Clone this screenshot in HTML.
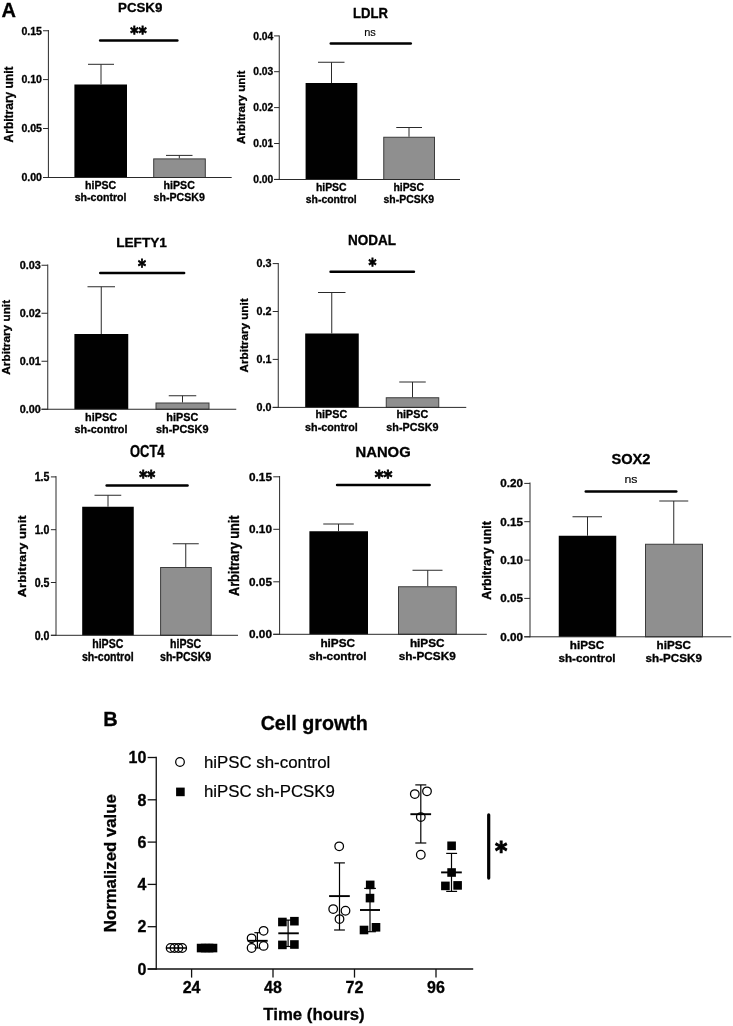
<!DOCTYPE html>
<html lang="en">
<head>
<meta charset="utf-8">
<title>Figure: PCSK9 knockdown in hiPSC</title>
<style>
html,body{margin:0;padding:0;background:#ffffff;}
body{width:733px;height:1026px;overflow:hidden;font-family:'Liberation Sans', sans-serif;}
svg{display:block;will-change:transform;opacity:0.999;}
text{fill:#000;}
</style>
</head>
<body>
<svg width="733" height="1026" viewBox="0 0 733 1026">
<rect x="0" y="0" width="733" height="1026" fill="#ffffff"/>
<text x="1.5" y="16.9" font-family="'Liberation Sans', sans-serif" font-size="20" font-weight="bold" stroke="#000" stroke-width="0.3">A</text>
<g><!-- PCSK9 -->
<text transform="translate(140.20,12.20)" font-family="'Liberation Sans', sans-serif" font-size="13.3" font-weight="bold" text-anchor="middle" stroke="#000" stroke-width="0.3">PCSK9</text>
<rect x="74.40" y="84.50" width="52.60" height="93.00" fill="#000"/>
<rect x="153.70" y="158.90" width="51.60" height="18.60" fill="#8f8f8f" stroke="#3c3c3c" stroke-width="1"/>
<line x1="101.00" y1="64.30" x2="101.00" y2="84.50" stroke="#2a2a2a" stroke-width="1.0" stroke-linecap="butt"/>
<line x1="88.00" y1="64.30" x2="114.00" y2="64.30" stroke="#2a2a2a" stroke-width="1.0" stroke-linecap="butt"/>
<line x1="179.30" y1="155.40" x2="179.30" y2="158.40" stroke="#2a2a2a" stroke-width="1.0" stroke-linecap="butt"/>
<line x1="166.00" y1="155.40" x2="192.50" y2="155.40" stroke="#2a2a2a" stroke-width="1.0" stroke-linecap="butt"/>
<line x1="48.40" y1="30.00" x2="48.40" y2="178.00" stroke="#2a2a2a" stroke-width="1.0" stroke-linecap="butt"/>
<line x1="43.00" y1="177.50" x2="231.70" y2="177.50" stroke="#2a2a2a" stroke-width="1.0" stroke-linecap="butt"/>
<line x1="43.00" y1="30.75" x2="48.40" y2="30.75" stroke="#2a2a2a" stroke-width="1.0" stroke-linecap="butt"/>
<text transform="translate(42.00,34.54)" font-family="'Liberation Sans', sans-serif" font-size="10.6" font-weight="bold" text-anchor="end" stroke="#000" stroke-width="0.3">0.15</text>
<line x1="43.00" y1="79.60" x2="48.40" y2="79.60" stroke="#2a2a2a" stroke-width="1.0" stroke-linecap="butt"/>
<text transform="translate(42.00,83.39)" font-family="'Liberation Sans', sans-serif" font-size="10.6" font-weight="bold" text-anchor="end" stroke="#000" stroke-width="0.3">0.10</text>
<line x1="43.00" y1="128.50" x2="48.40" y2="128.50" stroke="#2a2a2a" stroke-width="1.0" stroke-linecap="butt"/>
<text transform="translate(42.00,132.29)" font-family="'Liberation Sans', sans-serif" font-size="10.6" font-weight="bold" text-anchor="end" stroke="#000" stroke-width="0.3">0.05</text>
<line x1="43.00" y1="177.50" x2="48.40" y2="177.50" stroke="#2a2a2a" stroke-width="1.0" stroke-linecap="butt"/>
<text transform="translate(42.00,181.29)" font-family="'Liberation Sans', sans-serif" font-size="10.6" font-weight="bold" text-anchor="end" stroke="#000" stroke-width="0.3">0.00</text>
<line x1="100.15" y1="40.60" x2="177.35" y2="40.60" stroke="#000" stroke-width="2.5" stroke-linecap="round"/>
<text transform="translate(138.40,38.86) scale(1.030,1.180)" font-family="'DejaVu Sans', 'Liberation Sans', sans-serif" font-size="15.2" font-weight="bold" text-anchor="middle" stroke="#000" stroke-width="0.7">**</text>
<text transform="translate(100.60,189.25)" font-family="'Liberation Sans', sans-serif" font-size="10.6" font-weight="bold" text-anchor="middle" stroke="#000" stroke-width="0.3">hiPSC</text>
<text transform="translate(100.60,201.25)" font-family="'Liberation Sans', sans-serif" font-size="10.6" font-weight="bold" text-anchor="middle" stroke="#000" stroke-width="0.3">sh-control</text>
<text transform="translate(179.20,189.25)" font-family="'Liberation Sans', sans-serif" font-size="10.6" font-weight="bold" text-anchor="middle" stroke="#000" stroke-width="0.3">hiPSC</text>
<text transform="translate(179.20,201.25)" font-family="'Liberation Sans', sans-serif" font-size="10.6" font-weight="bold" text-anchor="middle" stroke="#000" stroke-width="0.3">sh-PCSK9</text>
<text transform="translate(12.90,104.40) rotate(-90)" font-family="'Liberation Sans', sans-serif" font-size="12.0" font-weight="bold" text-anchor="middle" stroke="#000" stroke-width="0.3">Arbitrary unit</text>
</g>
<g><!-- LDLR -->
<text transform="translate(370.50,17.70) scale(0.985,1.040)" font-family="'Liberation Sans', sans-serif" font-size="13.3" font-weight="bold" text-anchor="middle" stroke="#000" stroke-width="0.3">LDLR</text>
<rect x="305.60" y="83.00" width="51.70" height="96.50" fill="#000"/>
<rect x="383.75" y="137.25" width="50.75" height="42.25" fill="#8f8f8f" stroke="#3c3c3c" stroke-width="1"/>
<line x1="331.50" y1="62.25" x2="331.50" y2="83.00" stroke="#2a2a2a" stroke-width="1.0" stroke-linecap="butt"/>
<line x1="318.00" y1="62.25" x2="344.50" y2="62.25" stroke="#2a2a2a" stroke-width="1.0" stroke-linecap="butt"/>
<line x1="409.00" y1="127.50" x2="409.00" y2="136.75" stroke="#2a2a2a" stroke-width="1.0" stroke-linecap="butt"/>
<line x1="396.25" y1="127.50" x2="422.00" y2="127.50" stroke="#2a2a2a" stroke-width="1.0" stroke-linecap="butt"/>
<line x1="279.25" y1="35.50" x2="279.25" y2="180.00" stroke="#2a2a2a" stroke-width="1.0" stroke-linecap="butt"/>
<line x1="274.10" y1="179.50" x2="460.00" y2="179.50" stroke="#2a2a2a" stroke-width="1.0" stroke-linecap="butt"/>
<line x1="274.10" y1="35.90" x2="279.25" y2="35.90" stroke="#2a2a2a" stroke-width="1.0" stroke-linecap="butt"/>
<text transform="translate(273.20,39.62) scale(0.970,0.980)" font-family="'Liberation Sans', sans-serif" font-size="10.6" font-weight="bold" text-anchor="end" stroke="#000" stroke-width="0.3">0.04</text>
<line x1="274.10" y1="71.70" x2="279.25" y2="71.70" stroke="#2a2a2a" stroke-width="1.0" stroke-linecap="butt"/>
<text transform="translate(273.20,75.42) scale(0.970,0.980)" font-family="'Liberation Sans', sans-serif" font-size="10.6" font-weight="bold" text-anchor="end" stroke="#000" stroke-width="0.3">0.03</text>
<line x1="274.10" y1="107.60" x2="279.25" y2="107.60" stroke="#2a2a2a" stroke-width="1.0" stroke-linecap="butt"/>
<text transform="translate(273.20,111.32) scale(0.970,0.980)" font-family="'Liberation Sans', sans-serif" font-size="10.6" font-weight="bold" text-anchor="end" stroke="#000" stroke-width="0.3">0.02</text>
<line x1="274.10" y1="143.50" x2="279.25" y2="143.50" stroke="#2a2a2a" stroke-width="1.0" stroke-linecap="butt"/>
<text transform="translate(273.20,147.22) scale(0.970,0.980)" font-family="'Liberation Sans', sans-serif" font-size="10.6" font-weight="bold" text-anchor="end" stroke="#000" stroke-width="0.3">0.01</text>
<line x1="274.10" y1="179.40" x2="279.25" y2="179.40" stroke="#2a2a2a" stroke-width="1.0" stroke-linecap="butt"/>
<text transform="translate(273.20,183.12) scale(0.970,0.980)" font-family="'Liberation Sans', sans-serif" font-size="10.6" font-weight="bold" text-anchor="end" stroke="#000" stroke-width="0.3">0.00</text>
<line x1="330.75" y1="43.50" x2="410.75" y2="43.50" stroke="#000" stroke-width="2.5" stroke-linecap="round"/>
<text transform="translate(370.00,35.75) scale(0.985,0.980)" font-family="'Liberation Sans', sans-serif" font-size="11.2" font-weight="normal" text-anchor="middle" stroke="#000" stroke-width="0.15">ns</text>
<text transform="translate(331.25,190.50) scale(0.985,0.980)" font-family="'Liberation Sans', sans-serif" font-size="10.6" font-weight="bold" text-anchor="middle" stroke="#000" stroke-width="0.3">hiPSC</text>
<text transform="translate(331.25,203.00) scale(0.985,0.980)" font-family="'Liberation Sans', sans-serif" font-size="10.6" font-weight="bold" text-anchor="middle" stroke="#000" stroke-width="0.3">sh-control</text>
<text transform="translate(408.75,190.50) scale(0.985,0.980)" font-family="'Liberation Sans', sans-serif" font-size="10.6" font-weight="bold" text-anchor="middle" stroke="#000" stroke-width="0.3">hiPSC</text>
<text transform="translate(408.75,203.00) scale(0.985,0.980)" font-family="'Liberation Sans', sans-serif" font-size="10.6" font-weight="bold" text-anchor="middle" stroke="#000" stroke-width="0.3">sh-PCSK9</text>
<text transform="translate(245.30,107.30) rotate(-90)" font-family="'Liberation Sans', sans-serif" font-size="11.6" font-weight="bold" text-anchor="middle" stroke="#000" stroke-width="0.3">Arbitrary unit</text>
</g>
<g><!-- LEFTY1 -->
<text transform="translate(141.50,246.90) scale(1.025,1.020)" font-family="'Liberation Sans', sans-serif" font-size="13.3" font-weight="bold" text-anchor="middle" stroke="#000" stroke-width="0.3">LEFTY1</text>
<rect x="74.40" y="334.00" width="53.85" height="75.25" fill="#000"/>
<rect x="156.00" y="403.00" width="53.00" height="6.25" fill="#8f8f8f" stroke="#3c3c3c" stroke-width="1"/>
<line x1="101.25" y1="286.75" x2="101.25" y2="334.00" stroke="#2a2a2a" stroke-width="1.0" stroke-linecap="butt"/>
<line x1="87.50" y1="286.75" x2="115.00" y2="286.75" stroke="#2a2a2a" stroke-width="1.0" stroke-linecap="butt"/>
<line x1="182.50" y1="395.75" x2="182.50" y2="402.50" stroke="#2a2a2a" stroke-width="1.0" stroke-linecap="butt"/>
<line x1="168.75" y1="395.75" x2="196.25" y2="395.75" stroke="#2a2a2a" stroke-width="1.0" stroke-linecap="butt"/>
<line x1="47.75" y1="264.50" x2="47.75" y2="409.75" stroke="#2a2a2a" stroke-width="1.0" stroke-linecap="butt"/>
<line x1="41.50" y1="409.25" x2="236.25" y2="409.25" stroke="#2a2a2a" stroke-width="1.0" stroke-linecap="butt"/>
<line x1="41.50" y1="265.25" x2="47.75" y2="265.25" stroke="#2a2a2a" stroke-width="1.0" stroke-linecap="butt"/>
<text transform="translate(40.75,268.97) scale(1.025,0.980)" font-family="'Liberation Sans', sans-serif" font-size="10.6" font-weight="bold" text-anchor="end" stroke="#000" stroke-width="0.3">0.03</text>
<line x1="41.50" y1="313.25" x2="47.75" y2="313.25" stroke="#2a2a2a" stroke-width="1.0" stroke-linecap="butt"/>
<text transform="translate(40.75,316.97) scale(1.025,0.980)" font-family="'Liberation Sans', sans-serif" font-size="10.6" font-weight="bold" text-anchor="end" stroke="#000" stroke-width="0.3">0.02</text>
<line x1="41.50" y1="361.25" x2="47.75" y2="361.25" stroke="#2a2a2a" stroke-width="1.0" stroke-linecap="butt"/>
<text transform="translate(40.75,364.97) scale(1.025,0.980)" font-family="'Liberation Sans', sans-serif" font-size="10.6" font-weight="bold" text-anchor="end" stroke="#000" stroke-width="0.3">0.01</text>
<line x1="41.50" y1="409.25" x2="47.75" y2="409.25" stroke="#2a2a2a" stroke-width="1.0" stroke-linecap="butt"/>
<text transform="translate(40.75,412.97) scale(1.025,0.980)" font-family="'Liberation Sans', sans-serif" font-size="10.6" font-weight="bold" text-anchor="end" stroke="#000" stroke-width="0.3">0.00</text>
<line x1="100.25" y1="272.90" x2="184.15" y2="272.90" stroke="#000" stroke-width="2.5" stroke-linecap="round"/>
<text transform="translate(141.90,271.71) scale(1.000,1.180)" font-family="'DejaVu Sans', 'Liberation Sans', sans-serif" font-size="15.2" font-weight="bold" text-anchor="middle" stroke="#000" stroke-width="0.7">*</text>
<text transform="translate(101.00,420.50) scale(1.025,0.980)" font-family="'Liberation Sans', sans-serif" font-size="10.6" font-weight="bold" text-anchor="middle" stroke="#000" stroke-width="0.3">hiPSC</text>
<text transform="translate(101.00,433.00) scale(1.025,0.980)" font-family="'Liberation Sans', sans-serif" font-size="10.6" font-weight="bold" text-anchor="middle" stroke="#000" stroke-width="0.3">sh-control</text>
<text transform="translate(182.25,420.50) scale(1.025,0.980)" font-family="'Liberation Sans', sans-serif" font-size="10.6" font-weight="bold" text-anchor="middle" stroke="#000" stroke-width="0.3">hiPSC</text>
<text transform="translate(182.25,433.00) scale(1.025,0.980)" font-family="'Liberation Sans', sans-serif" font-size="10.6" font-weight="bold" text-anchor="middle" stroke="#000" stroke-width="0.3">sh-PCSK9</text>
<text transform="translate(9.90,337.30) rotate(-90)" font-family="'Liberation Sans', sans-serif" font-size="11.8" font-weight="bold" text-anchor="middle" stroke="#000" stroke-width="0.3">Arbitrary unit</text>
</g>
<g><!-- NODAL -->
<text transform="translate(372.00,245.20) scale(1.017,1.040)" font-family="'Liberation Sans', sans-serif" font-size="13.3" font-weight="bold" text-anchor="middle" stroke="#000" stroke-width="0.3">NODAL</text>
<rect x="305.20" y="333.50" width="53.55" height="73.90" fill="#000"/>
<rect x="386.25" y="397.75" width="52.50" height="9.65" fill="#8f8f8f" stroke="#3c3c3c" stroke-width="1"/>
<line x1="331.75" y1="292.50" x2="331.75" y2="333.50" stroke="#2a2a2a" stroke-width="1.0" stroke-linecap="butt"/>
<line x1="318.00" y1="292.50" x2="345.50" y2="292.50" stroke="#2a2a2a" stroke-width="1.0" stroke-linecap="butt"/>
<line x1="412.50" y1="382.00" x2="412.50" y2="397.25" stroke="#2a2a2a" stroke-width="1.0" stroke-linecap="butt"/>
<line x1="399.25" y1="382.00" x2="425.75" y2="382.00" stroke="#2a2a2a" stroke-width="1.0" stroke-linecap="butt"/>
<line x1="278.25" y1="263.00" x2="278.25" y2="407.90" stroke="#2a2a2a" stroke-width="1.0" stroke-linecap="butt"/>
<line x1="272.70" y1="407.40" x2="466.25" y2="407.40" stroke="#2a2a2a" stroke-width="1.0" stroke-linecap="butt"/>
<line x1="272.70" y1="263.60" x2="278.25" y2="263.60" stroke="#2a2a2a" stroke-width="1.0" stroke-linecap="butt"/>
<text transform="translate(271.60,267.32) scale(1.017,0.980)" font-family="'Liberation Sans', sans-serif" font-size="10.6" font-weight="bold" text-anchor="end" stroke="#000" stroke-width="0.3">0.3</text>
<line x1="272.70" y1="311.50" x2="278.25" y2="311.50" stroke="#2a2a2a" stroke-width="1.0" stroke-linecap="butt"/>
<text transform="translate(271.60,315.22) scale(1.017,0.980)" font-family="'Liberation Sans', sans-serif" font-size="10.6" font-weight="bold" text-anchor="end" stroke="#000" stroke-width="0.3">0.2</text>
<line x1="272.70" y1="359.40" x2="278.25" y2="359.40" stroke="#2a2a2a" stroke-width="1.0" stroke-linecap="butt"/>
<text transform="translate(271.60,363.12) scale(1.017,0.980)" font-family="'Liberation Sans', sans-serif" font-size="10.6" font-weight="bold" text-anchor="end" stroke="#000" stroke-width="0.3">0.1</text>
<line x1="272.70" y1="407.40" x2="278.25" y2="407.40" stroke="#2a2a2a" stroke-width="1.0" stroke-linecap="butt"/>
<text transform="translate(271.60,411.12) scale(1.017,0.980)" font-family="'Liberation Sans', sans-serif" font-size="10.6" font-weight="bold" text-anchor="end" stroke="#000" stroke-width="0.3">0.0</text>
<line x1="330.55" y1="271.70" x2="413.95" y2="271.70" stroke="#000" stroke-width="2.5" stroke-linecap="round"/>
<text transform="translate(372.40,270.61) scale(1.000,1.180)" font-family="'DejaVu Sans', 'Liberation Sans', sans-serif" font-size="15.2" font-weight="bold" text-anchor="middle" stroke="#000" stroke-width="0.7">*</text>
<text transform="translate(331.40,418.25) scale(1.017,0.980)" font-family="'Liberation Sans', sans-serif" font-size="10.6" font-weight="bold" text-anchor="middle" stroke="#000" stroke-width="0.3">hiPSC</text>
<text transform="translate(331.40,430.75) scale(1.017,0.980)" font-family="'Liberation Sans', sans-serif" font-size="10.6" font-weight="bold" text-anchor="middle" stroke="#000" stroke-width="0.3">sh-control</text>
<text transform="translate(412.40,418.25) scale(1.017,0.980)" font-family="'Liberation Sans', sans-serif" font-size="10.6" font-weight="bold" text-anchor="middle" stroke="#000" stroke-width="0.3">hiPSC</text>
<text transform="translate(412.40,430.75) scale(1.017,0.980)" font-family="'Liberation Sans', sans-serif" font-size="10.6" font-weight="bold" text-anchor="middle" stroke="#000" stroke-width="0.3">sh-PCSK9</text>
<text transform="translate(247.60,335.40) rotate(-90)" font-family="'Liberation Sans', sans-serif" font-size="11.7" font-weight="bold" text-anchor="middle" stroke="#000" stroke-width="0.3">Arbitrary unit</text>
</g>
<g><!-- OCT4 -->
<text transform="translate(147.25,457.00) scale(0.970,1.220)" font-family="'Liberation Sans', sans-serif" font-size="13.3" font-weight="bold" text-anchor="middle" stroke="#000" stroke-width="0.3">OCT4</text>
<rect x="82.20" y="506.75" width="51.55" height="128.55" fill="#000"/>
<rect x="160.60" y="567.50" width="50.65" height="67.80" fill="#8f8f8f" stroke="#3c3c3c" stroke-width="1"/>
<line x1="108.00" y1="495.25" x2="108.00" y2="506.75" stroke="#2a2a2a" stroke-width="1.0" stroke-linecap="butt"/>
<line x1="94.50" y1="495.25" x2="121.25" y2="495.25" stroke="#2a2a2a" stroke-width="1.0" stroke-linecap="butt"/>
<line x1="185.75" y1="543.75" x2="185.75" y2="567.00" stroke="#2a2a2a" stroke-width="1.0" stroke-linecap="butt"/>
<line x1="172.75" y1="543.75" x2="198.75" y2="543.75" stroke="#2a2a2a" stroke-width="1.0" stroke-linecap="butt"/>
<line x1="56.00" y1="476.10" x2="56.00" y2="635.80" stroke="#2a2a2a" stroke-width="1.0" stroke-linecap="butt"/>
<line x1="50.90" y1="635.30" x2="238.00" y2="635.30" stroke="#2a2a2a" stroke-width="1.0" stroke-linecap="butt"/>
<line x1="50.90" y1="476.90" x2="56.00" y2="476.90" stroke="#2a2a2a" stroke-width="1.0" stroke-linecap="butt"/>
<text transform="translate(49.40,481.26) scale(1.000,1.150)" font-family="'Liberation Sans', sans-serif" font-size="10.6" font-weight="bold" text-anchor="end" stroke="#000" stroke-width="0.3">1.5</text>
<line x1="50.90" y1="529.70" x2="56.00" y2="529.70" stroke="#2a2a2a" stroke-width="1.0" stroke-linecap="butt"/>
<text transform="translate(49.40,534.06) scale(1.000,1.150)" font-family="'Liberation Sans', sans-serif" font-size="10.6" font-weight="bold" text-anchor="end" stroke="#000" stroke-width="0.3">1.0</text>
<line x1="50.90" y1="582.50" x2="56.00" y2="582.50" stroke="#2a2a2a" stroke-width="1.0" stroke-linecap="butt"/>
<text transform="translate(49.40,586.86) scale(1.000,1.150)" font-family="'Liberation Sans', sans-serif" font-size="10.6" font-weight="bold" text-anchor="end" stroke="#000" stroke-width="0.3">0.5</text>
<line x1="50.90" y1="635.30" x2="56.00" y2="635.30" stroke="#2a2a2a" stroke-width="1.0" stroke-linecap="butt"/>
<text transform="translate(49.40,639.66) scale(1.000,1.150)" font-family="'Liberation Sans', sans-serif" font-size="10.6" font-weight="bold" text-anchor="end" stroke="#000" stroke-width="0.3">0.0</text>
<line x1="106.65" y1="485.40" x2="187.55" y2="485.40" stroke="#000" stroke-width="2.5" stroke-linecap="round"/>
<text transform="translate(147.30,483.01) scale(0.999,1.180)" font-family="'DejaVu Sans', 'Liberation Sans', sans-serif" font-size="15.2" font-weight="bold" text-anchor="middle" stroke="#000" stroke-width="0.7">**</text>
<text transform="translate(107.75,648.00) scale(1.000,1.150)" font-family="'Liberation Sans', sans-serif" font-size="10.6" font-weight="bold" text-anchor="middle" stroke="#000" stroke-width="0.3">hiPSC</text>
<text transform="translate(107.75,661.25) scale(1.000,1.150)" font-family="'Liberation Sans', sans-serif" font-size="10.6" font-weight="bold" text-anchor="middle" stroke="#000" stroke-width="0.3">sh-control</text>
<text transform="translate(185.60,648.00) scale(1.000,1.150)" font-family="'Liberation Sans', sans-serif" font-size="10.6" font-weight="bold" text-anchor="middle" stroke="#000" stroke-width="0.3">hiPSC</text>
<text transform="translate(185.60,661.25) scale(1.000,1.150)" font-family="'Liberation Sans', sans-serif" font-size="10.6" font-weight="bold" text-anchor="middle" stroke="#000" stroke-width="0.3">sh-PCSK9</text>
<text transform="translate(26.20,556.30) rotate(-90) scale(1.125,1.020)" font-family="'Liberation Sans', sans-serif" font-size="11.5" font-weight="bold" text-anchor="middle" stroke="#000" stroke-width="0.3">Arbitrary unit</text>
</g>
<g><!-- NANOG -->
<text transform="translate(383.10,456.75) scale(1.114,1.070)" font-family="'Liberation Sans', sans-serif" font-size="13.3" font-weight="bold" text-anchor="middle" stroke="#000" stroke-width="0.3">NANOG</text>
<rect x="309.40" y="531.25" width="58.60" height="103.05" fill="#000"/>
<rect x="398.50" y="586.75" width="57.75" height="47.55" fill="#8f8f8f" stroke="#3c3c3c" stroke-width="1"/>
<line x1="338.50" y1="524.00" x2="338.50" y2="531.25" stroke="#2a2a2a" stroke-width="1.0" stroke-linecap="butt"/>
<line x1="323.25" y1="524.00" x2="353.75" y2="524.00" stroke="#2a2a2a" stroke-width="1.0" stroke-linecap="butt"/>
<line x1="427.75" y1="570.25" x2="427.75" y2="586.25" stroke="#2a2a2a" stroke-width="1.0" stroke-linecap="butt"/>
<line x1="412.50" y1="570.25" x2="442.50" y2="570.25" stroke="#2a2a2a" stroke-width="1.0" stroke-linecap="butt"/>
<line x1="279.60" y1="476.00" x2="279.60" y2="634.80" stroke="#2a2a2a" stroke-width="1.0" stroke-linecap="butt"/>
<line x1="273.25" y1="634.30" x2="486.80" y2="634.30" stroke="#2a2a2a" stroke-width="1.0" stroke-linecap="butt"/>
<line x1="273.25" y1="476.80" x2="279.60" y2="476.80" stroke="#2a2a2a" stroke-width="1.0" stroke-linecap="butt"/>
<text transform="translate(272.00,480.86) scale(1.114,1.070)" font-family="'Liberation Sans', sans-serif" font-size="10.6" font-weight="bold" text-anchor="end" stroke="#000" stroke-width="0.3">0.15</text>
<line x1="273.25" y1="529.30" x2="279.60" y2="529.30" stroke="#2a2a2a" stroke-width="1.0" stroke-linecap="butt"/>
<text transform="translate(272.00,533.36) scale(1.114,1.070)" font-family="'Liberation Sans', sans-serif" font-size="10.6" font-weight="bold" text-anchor="end" stroke="#000" stroke-width="0.3">0.10</text>
<line x1="273.25" y1="581.80" x2="279.60" y2="581.80" stroke="#2a2a2a" stroke-width="1.0" stroke-linecap="butt"/>
<text transform="translate(272.00,585.86) scale(1.114,1.070)" font-family="'Liberation Sans', sans-serif" font-size="10.6" font-weight="bold" text-anchor="end" stroke="#000" stroke-width="0.3">0.05</text>
<line x1="273.25" y1="634.30" x2="279.60" y2="634.30" stroke="#2a2a2a" stroke-width="1.0" stroke-linecap="butt"/>
<text transform="translate(272.00,638.36) scale(1.114,1.070)" font-family="'Liberation Sans', sans-serif" font-size="10.6" font-weight="bold" text-anchor="end" stroke="#000" stroke-width="0.3">0.00</text>
<line x1="337.05" y1="485.10" x2="429.65" y2="485.10" stroke="#000" stroke-width="2.5" stroke-linecap="round"/>
<text transform="translate(383.60,483.01) scale(1.112,1.180)" font-family="'DejaVu Sans', 'Liberation Sans', sans-serif" font-size="15.2" font-weight="bold" text-anchor="middle" stroke="#000" stroke-width="0.7">**</text>
<text transform="translate(337.75,646.70) scale(1.114,1.070)" font-family="'Liberation Sans', sans-serif" font-size="10.6" font-weight="bold" text-anchor="middle" stroke="#000" stroke-width="0.3">hiPSC</text>
<text transform="translate(337.75,659.90) scale(1.114,1.070)" font-family="'Liberation Sans', sans-serif" font-size="10.6" font-weight="bold" text-anchor="middle" stroke="#000" stroke-width="0.3">sh-control</text>
<text transform="translate(427.25,646.70) scale(1.114,1.070)" font-family="'Liberation Sans', sans-serif" font-size="10.6" font-weight="bold" text-anchor="middle" stroke="#000" stroke-width="0.3">hiPSC</text>
<text transform="translate(427.25,659.90) scale(1.114,1.070)" font-family="'Liberation Sans', sans-serif" font-size="10.6" font-weight="bold" text-anchor="middle" stroke="#000" stroke-width="0.3">sh-PCSK9</text>
<text transform="translate(239.40,555.75) rotate(-90) scale(1.000,1.120)" font-family="'Liberation Sans', sans-serif" font-size="12.75" font-weight="bold" text-anchor="middle" stroke="#000" stroke-width="0.3">Arbitrary unit</text>
</g>
<g><!-- SOX2 -->
<text transform="translate(631.00,463.75) scale(1.100,1.043)" font-family="'Liberation Sans', sans-serif" font-size="13.3" font-weight="bold" text-anchor="middle" stroke="#000" stroke-width="0.3">SOX2</text>
<rect x="558.75" y="535.75" width="57.50" height="101.05" fill="#000"/>
<rect x="645.50" y="544.25" width="57.00" height="92.55" fill="#8f8f8f" stroke="#3c3c3c" stroke-width="1"/>
<line x1="587.50" y1="516.75" x2="587.50" y2="535.75" stroke="#2a2a2a" stroke-width="1.0" stroke-linecap="butt"/>
<line x1="572.50" y1="516.75" x2="602.00" y2="516.75" stroke="#2a2a2a" stroke-width="1.0" stroke-linecap="butt"/>
<line x1="673.75" y1="501.00" x2="673.75" y2="543.75" stroke="#2a2a2a" stroke-width="1.0" stroke-linecap="butt"/>
<line x1="659.25" y1="501.00" x2="688.25" y2="501.00" stroke="#2a2a2a" stroke-width="1.0" stroke-linecap="butt"/>
<line x1="530.00" y1="482.50" x2="530.00" y2="637.30" stroke="#2a2a2a" stroke-width="1.0" stroke-linecap="butt"/>
<line x1="524.25" y1="636.80" x2="731.25" y2="636.80" stroke="#2a2a2a" stroke-width="1.0" stroke-linecap="butt"/>
<line x1="524.25" y1="483.40" x2="530.00" y2="483.40" stroke="#2a2a2a" stroke-width="1.0" stroke-linecap="butt"/>
<text transform="translate(523.00,487.36) scale(1.100,1.043)" font-family="'Liberation Sans', sans-serif" font-size="10.6" font-weight="bold" text-anchor="end" stroke="#000" stroke-width="0.3">0.20</text>
<line x1="524.25" y1="521.70" x2="530.00" y2="521.70" stroke="#2a2a2a" stroke-width="1.0" stroke-linecap="butt"/>
<text transform="translate(523.00,525.66) scale(1.100,1.043)" font-family="'Liberation Sans', sans-serif" font-size="10.6" font-weight="bold" text-anchor="end" stroke="#000" stroke-width="0.3">0.15</text>
<line x1="524.25" y1="560.10" x2="530.00" y2="560.10" stroke="#2a2a2a" stroke-width="1.0" stroke-linecap="butt"/>
<text transform="translate(523.00,564.06) scale(1.100,1.043)" font-family="'Liberation Sans', sans-serif" font-size="10.6" font-weight="bold" text-anchor="end" stroke="#000" stroke-width="0.3">0.10</text>
<line x1="524.25" y1="598.40" x2="530.00" y2="598.40" stroke="#2a2a2a" stroke-width="1.0" stroke-linecap="butt"/>
<text transform="translate(523.00,602.36) scale(1.100,1.043)" font-family="'Liberation Sans', sans-serif" font-size="10.6" font-weight="bold" text-anchor="end" stroke="#000" stroke-width="0.3">0.05</text>
<line x1="524.25" y1="636.80" x2="530.00" y2="636.80" stroke="#2a2a2a" stroke-width="1.0" stroke-linecap="butt"/>
<text transform="translate(523.00,640.76) scale(1.100,1.043)" font-family="'Liberation Sans', sans-serif" font-size="10.6" font-weight="bold" text-anchor="end" stroke="#000" stroke-width="0.3">0.00</text>
<line x1="585.75" y1="491.60" x2="676.25" y2="491.60" stroke="#000" stroke-width="2.5" stroke-linecap="round"/>
<text transform="translate(631.00,483.25) scale(1.100,1.043)" font-family="'Liberation Sans', sans-serif" font-size="11.2" font-weight="normal" text-anchor="middle" stroke="#000" stroke-width="0.15">ns</text>
<text transform="translate(587.00,648.75) scale(1.100,1.043)" font-family="'Liberation Sans', sans-serif" font-size="10.6" font-weight="bold" text-anchor="middle" stroke="#000" stroke-width="0.3">hiPSC</text>
<text transform="translate(587.00,662.00) scale(1.100,1.043)" font-family="'Liberation Sans', sans-serif" font-size="10.6" font-weight="bold" text-anchor="middle" stroke="#000" stroke-width="0.3">sh-control</text>
<text transform="translate(673.75,648.75) scale(1.100,1.043)" font-family="'Liberation Sans', sans-serif" font-size="10.6" font-weight="bold" text-anchor="middle" stroke="#000" stroke-width="0.3">hiPSC</text>
<text transform="translate(673.75,662.00) scale(1.100,1.043)" font-family="'Liberation Sans', sans-serif" font-size="10.6" font-weight="bold" text-anchor="middle" stroke="#000" stroke-width="0.3">sh-PCSK9</text>
<text transform="translate(491.40,560.50) rotate(-90) scale(1.080,1.155)" font-family="'Liberation Sans', sans-serif" font-size="11.5" font-weight="bold" text-anchor="middle" stroke="#000" stroke-width="0.3">Arbitrary unit</text>
</g>
<g><!-- panel B -->
<text x="103.2" y="725.9" font-family="'Liberation Sans', sans-serif" font-size="20" font-weight="bold" stroke="#000" stroke-width="0.3">B</text>
<text transform="translate(314.25,730.00)" font-family="'Liberation Sans', sans-serif" font-size="19.7" font-weight="bold" text-anchor="middle" stroke="#000" stroke-width="0.3">Cell growth</text>
<line x1="156.25" y1="756.85" x2="156.25" y2="969.65" stroke="#111" stroke-width="1.3" stroke-linecap="butt"/>
<line x1="147.65" y1="969.00" x2="473.20" y2="969.00" stroke="#111" stroke-width="1.3" stroke-linecap="butt"/>
<line x1="147.65" y1="969.00" x2="156.25" y2="969.00" stroke="#111" stroke-width="1.3" stroke-linecap="butt"/>
<text transform="translate(146.30,974.70)" font-family="'Liberation Sans', sans-serif" font-size="16" font-weight="bold" text-anchor="end" stroke="#000" stroke-width="0.3">0</text>
<line x1="147.65" y1="926.70" x2="156.25" y2="926.70" stroke="#111" stroke-width="1.3" stroke-linecap="butt"/>
<text transform="translate(146.30,932.40)" font-family="'Liberation Sans', sans-serif" font-size="16" font-weight="bold" text-anchor="end" stroke="#000" stroke-width="0.3">2</text>
<line x1="147.65" y1="884.40" x2="156.25" y2="884.40" stroke="#111" stroke-width="1.3" stroke-linecap="butt"/>
<text transform="translate(146.30,890.10)" font-family="'Liberation Sans', sans-serif" font-size="16" font-weight="bold" text-anchor="end" stroke="#000" stroke-width="0.3">4</text>
<line x1="147.65" y1="842.10" x2="156.25" y2="842.10" stroke="#111" stroke-width="1.3" stroke-linecap="butt"/>
<text transform="translate(146.30,847.80)" font-family="'Liberation Sans', sans-serif" font-size="16" font-weight="bold" text-anchor="end" stroke="#000" stroke-width="0.3">6</text>
<line x1="147.65" y1="799.80" x2="156.25" y2="799.80" stroke="#111" stroke-width="1.3" stroke-linecap="butt"/>
<text transform="translate(146.30,805.50)" font-family="'Liberation Sans', sans-serif" font-size="16" font-weight="bold" text-anchor="end" stroke="#000" stroke-width="0.3">8</text>
<line x1="147.65" y1="757.50" x2="156.25" y2="757.50" stroke="#111" stroke-width="1.3" stroke-linecap="butt"/>
<text transform="translate(146.30,763.20)" font-family="'Liberation Sans', sans-serif" font-size="16" font-weight="bold" text-anchor="end" stroke="#000" stroke-width="0.3">10</text>
<line x1="191.60" y1="969.00" x2="191.60" y2="977.60" stroke="#111" stroke-width="1.3" stroke-linecap="butt"/>
<text transform="translate(191.60,993.40)" font-family="'Liberation Sans', sans-serif" font-size="16" font-weight="bold" text-anchor="middle" stroke="#000" stroke-width="0.3">24</text>
<line x1="273.00" y1="969.00" x2="273.00" y2="977.60" stroke="#111" stroke-width="1.3" stroke-linecap="butt"/>
<text transform="translate(273.00,993.40)" font-family="'Liberation Sans', sans-serif" font-size="16" font-weight="bold" text-anchor="middle" stroke="#000" stroke-width="0.3">48</text>
<line x1="354.50" y1="969.00" x2="354.50" y2="977.60" stroke="#111" stroke-width="1.3" stroke-linecap="butt"/>
<text transform="translate(354.50,993.40)" font-family="'Liberation Sans', sans-serif" font-size="16" font-weight="bold" text-anchor="middle" stroke="#000" stroke-width="0.3">72</text>
<line x1="436.00" y1="969.00" x2="436.00" y2="977.60" stroke="#111" stroke-width="1.3" stroke-linecap="butt"/>
<text transform="translate(436.00,993.40)" font-family="'Liberation Sans', sans-serif" font-size="16" font-weight="bold" text-anchor="middle" stroke="#000" stroke-width="0.3">96</text>
<text transform="translate(314.00,1020.40)" font-family="'Liberation Sans', sans-serif" font-size="16.8" font-weight="bold" text-anchor="middle" stroke="#000" stroke-width="0.3">Time (hours)</text>
<text transform="translate(116.20,863.20) rotate(-90)" font-family="'Liberation Sans', sans-serif" font-size="16.8" font-weight="bold" text-anchor="middle" stroke="#000" stroke-width="0.3">Normalized value</text>
<circle cx="180.00" cy="762.00" r="4.3" fill="none" stroke="#000" stroke-width="1.25"/>
<rect x="176.10" y="787.60" width="8.6" height="8.6" fill="#000"/>
<text transform="translate(203.90,768.00)" font-family="'Liberation Sans', sans-serif" font-size="16.85" font-weight="normal" text-anchor="start" stroke="#000" stroke-width="0.2">hiPSC sh-control</text>
<text transform="translate(203.90,796.75)" font-family="'Liberation Sans', sans-serif" font-size="16.85" font-weight="normal" text-anchor="start" stroke="#000" stroke-width="0.2">hiPSC sh-PCSK9</text>
<circle cx="170.60" cy="948.00" r="4.3" fill="none" stroke="#000" stroke-width="1.25"/>
<circle cx="174.50" cy="948.00" r="4.3" fill="none" stroke="#000" stroke-width="1.25"/>
<circle cx="178.40" cy="948.00" r="4.3" fill="none" stroke="#000" stroke-width="1.25"/>
<circle cx="182.20" cy="948.00" r="4.3" fill="none" stroke="#000" stroke-width="1.25"/>
<line x1="166.00" y1="948.00" x2="187.00" y2="948.00" stroke="#000" stroke-width="1.5" stroke-linecap="butt"/>
<rect x="196.80" y="943.75" width="8.6" height="8.6" fill="#000"/>
<rect x="200.80" y="943.75" width="8.6" height="8.6" fill="#000"/>
<rect x="204.80" y="943.75" width="8.6" height="8.6" fill="#000"/>
<rect x="208.70" y="943.75" width="8.6" height="8.6" fill="#000"/>
<line x1="257.40" y1="932.70" x2="257.40" y2="948.00" stroke="#000" stroke-width="1.2" stroke-linecap="butt"/>
<line x1="254.40" y1="932.70" x2="260.40" y2="932.70" stroke="#000" stroke-width="1.2" stroke-linecap="butt"/>
<line x1="254.40" y1="948.00" x2="260.40" y2="948.00" stroke="#000" stroke-width="1.2" stroke-linecap="butt"/>
<line x1="247.60" y1="940.80" x2="267.70" y2="940.80" stroke="#000" stroke-width="1.9" stroke-linecap="butt"/>
<circle cx="263.60" cy="930.80" r="4.3" fill="none" stroke="#000" stroke-width="1.25"/>
<circle cx="251.60" cy="938.30" r="4.3" fill="none" stroke="#000" stroke-width="1.25"/>
<circle cx="251.60" cy="948.00" r="4.3" fill="none" stroke="#000" stroke-width="1.25"/>
<circle cx="263.60" cy="945.90" r="4.3" fill="none" stroke="#000" stroke-width="1.25"/>
<line x1="288.10" y1="920.10" x2="288.10" y2="946.50" stroke="#000" stroke-width="1.2" stroke-linecap="butt"/>
<line x1="285.00" y1="920.10" x2="291.20" y2="920.10" stroke="#000" stroke-width="1.2" stroke-linecap="butt"/>
<line x1="285.00" y1="946.50" x2="291.20" y2="946.50" stroke="#000" stroke-width="1.2" stroke-linecap="butt"/>
<line x1="278.30" y1="933.30" x2="298.80" y2="933.30" stroke="#000" stroke-width="1.9" stroke-linecap="butt"/>
<rect x="278.10" y="917.70" width="8.6" height="8.6" fill="#000"/>
<rect x="290.10" y="916.90" width="8.6" height="8.6" fill="#000"/>
<rect x="278.10" y="940.60" width="8.6" height="8.6" fill="#000"/>
<rect x="290.10" y="940.20" width="8.6" height="8.6" fill="#000"/>
<line x1="339.50" y1="862.90" x2="339.50" y2="930.00" stroke="#000" stroke-width="1.2" stroke-linecap="butt"/>
<line x1="334.10" y1="862.90" x2="344.90" y2="862.90" stroke="#000" stroke-width="1.2" stroke-linecap="butt"/>
<line x1="334.10" y1="930.00" x2="344.90" y2="930.00" stroke="#000" stroke-width="1.2" stroke-linecap="butt"/>
<line x1="329.10" y1="896.10" x2="349.80" y2="896.10" stroke="#000" stroke-width="1.9" stroke-linecap="butt"/>
<circle cx="339.20" cy="846.30" r="4.3" fill="none" stroke="#000" stroke-width="1.25"/>
<circle cx="333.20" cy="909.10" r="4.3" fill="none" stroke="#000" stroke-width="1.25"/>
<circle cx="345.50" cy="910.70" r="4.3" fill="none" stroke="#000" stroke-width="1.25"/>
<circle cx="339.50" cy="919.10" r="4.3" fill="none" stroke="#000" stroke-width="1.25"/>
<line x1="370.00" y1="888.40" x2="370.00" y2="931.70" stroke="#000" stroke-width="1.2" stroke-linecap="butt"/>
<line x1="364.20" y1="888.40" x2="375.90" y2="888.40" stroke="#000" stroke-width="1.2" stroke-linecap="butt"/>
<line x1="364.20" y1="931.70" x2="375.90" y2="931.70" stroke="#000" stroke-width="1.2" stroke-linecap="butt"/>
<line x1="360.00" y1="910.00" x2="380.00" y2="910.00" stroke="#000" stroke-width="1.9" stroke-linecap="butt"/>
<rect x="365.90" y="880.60" width="8.6" height="8.6" fill="#000"/>
<rect x="365.70" y="893.80" width="8.6" height="8.6" fill="#000"/>
<rect x="359.70" y="925.70" width="8.6" height="8.6" fill="#000"/>
<rect x="371.70" y="923.00" width="8.6" height="8.6" fill="#000"/>
<line x1="420.80" y1="784.90" x2="420.80" y2="843.00" stroke="#000" stroke-width="1.2" stroke-linecap="butt"/>
<line x1="415.30" y1="784.90" x2="426.30" y2="784.90" stroke="#000" stroke-width="1.2" stroke-linecap="butt"/>
<line x1="415.30" y1="843.00" x2="426.30" y2="843.00" stroke="#000" stroke-width="1.2" stroke-linecap="butt"/>
<line x1="410.40" y1="814.20" x2="431.10" y2="814.20" stroke="#000" stroke-width="1.9" stroke-linecap="butt"/>
<circle cx="414.80" cy="794.10" r="4.3" fill="none" stroke="#000" stroke-width="1.25"/>
<circle cx="427.00" cy="791.30" r="4.3" fill="none" stroke="#000" stroke-width="1.25"/>
<circle cx="420.80" cy="817.10" r="4.3" fill="none" stroke="#000" stroke-width="1.25"/>
<circle cx="420.80" cy="854.70" r="4.3" fill="none" stroke="#000" stroke-width="1.25"/>
<line x1="451.50" y1="853.40" x2="451.50" y2="891.40" stroke="#000" stroke-width="1.2" stroke-linecap="butt"/>
<line x1="446.20" y1="853.40" x2="457.10" y2="853.40" stroke="#000" stroke-width="1.2" stroke-linecap="butt"/>
<line x1="446.20" y1="891.40" x2="457.10" y2="891.40" stroke="#000" stroke-width="1.2" stroke-linecap="butt"/>
<line x1="441.10" y1="872.40" x2="461.80" y2="872.40" stroke="#000" stroke-width="1.9" stroke-linecap="butt"/>
<rect x="447.30" y="841.50" width="8.6" height="8.6" fill="#000"/>
<rect x="447.30" y="868.20" width="8.6" height="8.6" fill="#000"/>
<rect x="441.10" y="881.60" width="8.6" height="8.6" fill="#000"/>
<rect x="453.30" y="881.10" width="8.6" height="8.6" fill="#000"/>
<line x1="488.70" y1="814.90" x2="488.70" y2="878.10" stroke="#000" stroke-width="3.2" stroke-linecap="round"/>
<text transform="translate(501.10,858.55) scale(1.000,1.060)" font-family="'DejaVu Sans', 'Liberation Sans', sans-serif" font-size="23.5" font-weight="bold" text-anchor="middle" stroke="#000" stroke-width="1.0">*</text>
</g>
</svg>
</body>
</html>
